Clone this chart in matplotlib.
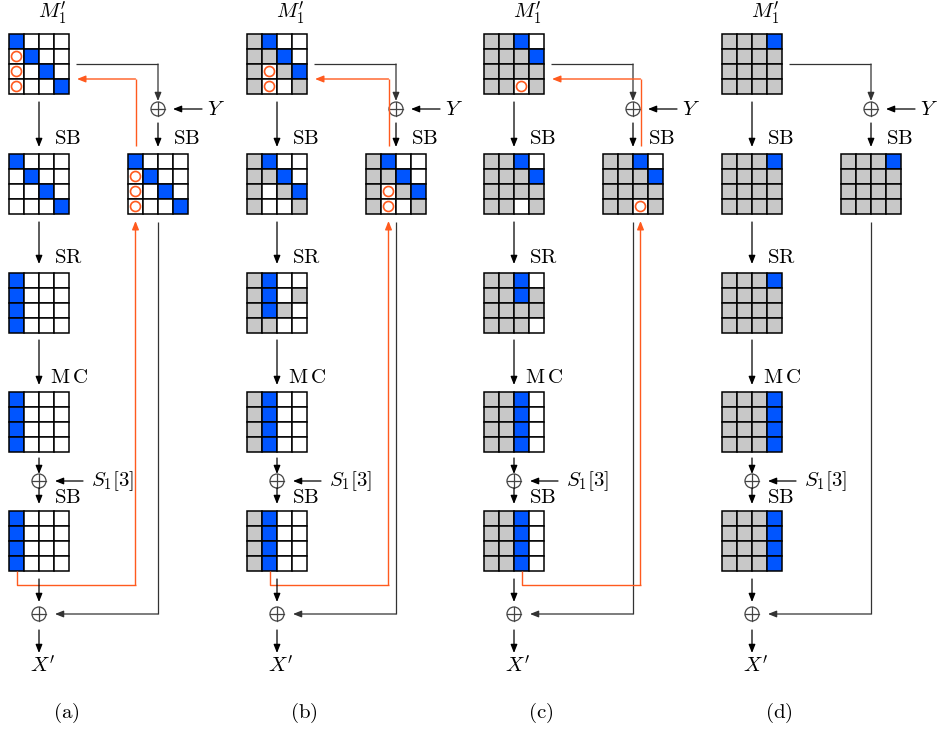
import matplotlib
matplotlib.use('Agg')
import matplotlib.pyplot as plt
from matplotlib.patches import Rectangle, Circle

plt.rcParams['mathtext.fontset'] = 'cm'

# 状态: W 白, G 灰, B 蓝, O 白底橙圈
labels = ['(a)', '(b)', '(c)', '(d)']

m1_a = ["BWWW", "OBWW", "OWBW", "OWWB"]
sb_a = ["BWWW", "WBWW", "WWBW", "WWWB"]
sbr_a = ["BWWW", "OBWW", "OWBW", "OWWB"]
sr_a = ["BWWW", "BWWW", "BWWW", "BWWW"]
mc_a = ["BWWW", "BWWW", "BWWW", "BWWW"]
sb2_a = ["BWWW", "BWWW", "BWWW", "BWWW"]

m1_b = ["GBWW", "GGBW", "GOGB", "GOWG"]
sb_b = ["GBWW", "GGBW", "GWGB", "GWWG"]
sbr_b = ["GBWW", "GGBW", "GOGB", "GOWG"]
sr_b = ["GBWW", "GBWG", "GBGW", "GGWW"]
mc_b = ["GBWW", "GBWW", "GBWW", "GBWW"]
sb2_b = ["GBWW", "GBWW", "GBWW", "GBWW"]

m1_c = ["GGBW", "GGGB", "GGGG", "GGOG"]
sb_c = ["GGBW", "GGGB", "GGGG", "GGWG"]
sbr_c = ["GGBW", "GGGB", "GGGG", "GGOG"]
sr_c = ["GGBW", "GGBG", "GGGG", "GGGW"]
mc_c = ["GGBW", "GGBW", "GGBW", "GGBW"]
sb2_c = ["GGBW", "GGBW", "GGBW", "GGBW"]

m1_d = ["GGGB", "GGGG", "GGGG", "GGGG"]
sb_d = ["GGGB", "GGGG", "GGGG", "GGGG"]
sbr_d = ["GGGB", "GGGG", "GGGG", "GGGG"]
sr_d = ["GGGB", "GGGG", "GGGG", "GGGG"]
mc_d = ["GGGB", "GGGB", "GGGB", "GGGB"]
sb2_d = ["GGGB", "GGGB", "GGGB", "GGGB"]

circle_col = [0, 1, 2, None]   # 橙色反馈线所在列
source_col = [0, 1, 2, None]   # 底部橙线起点列

panels = [
    (m1_a, sb_a, sbr_a, sr_a, mc_a, sb2_a),
    (m1_b, sb_b, sbr_b, sr_b, mc_b, sb2_b),
    (m1_c, sb_c, sbr_c, sr_c, mc_c, sb2_c),
    (m1_d, sb_d, sbr_d, sr_d, mc_d, sb2_d),
]

blue = '#0055ff'
gray = '#c8c8c8'
orange = '#ff5a1e'
dark = '#333333'
cs = 15
fs = 15

fig = plt.figure(figsize=(9.38, 7.33), dpi=100)
ax = fig.add_axes([0, 0, 1, 1])
ax.set_xlim(0, 938)
ax.set_ylim(733, 0)
ax.axis('off')


def draw_grid(x0, y0, rows):
    for i, row in enumerate(rows):
        for j, c in enumerate(row):
            fc = {'W': 'white', 'G': gray, 'B': blue, 'O': 'white'}[c]
            ax.add_patch(Rectangle((x0 + j * cs, y0 + i * cs), cs, cs,
                                   fc=fc, ec='k', lw=1.1, zorder=2))
            if c == 'O':
                ax.add_patch(Circle((x0 + j * cs + cs / 2, y0 + i * cs + cs / 2), 5,
                                    fill=False, ec=orange, lw=1.2, zorder=3))


def arrow(x1, y1, x2, y2, color='k', lw=0.9):
    ax.annotate('', xy=(x2, y2), xytext=(x1, y1),
                arrowprops=dict(arrowstyle='-|>,head_length=0.5,head_width=0.2',
                                color=color, lw=lw, shrinkA=0, shrinkB=0,
                                mutation_scale=10))


def path(xs, ys, color='k', lw=0.9):
    ax.plot(xs[:-1], ys[:-1], color=color, lw=lw, solid_capstyle='butt')
    arrow(xs[-2], ys[-2], xs[-1], ys[-1], color=color, lw=lw)


def xor(x, y):
    ax.add_patch(Circle((x, y), 7, fill=False, ec='#444444', lw=0.9))
    ax.plot([x - 7, x + 7], [y, y], color='#444444', lw=0.9)
    ax.plot([x, x], [y - 7, y + 7], color='#444444', lw=0.9)


for k, (m1, sb, sbr, sr, mc, sb2) in enumerate(panels):
    gx = 9 + round(237.7 * k)
    rx = gx + 119
    cx = gx + 30
    rc = rx + 30

    ax.text(gx + 43, 13, r"$M_1'$", fontsize=fs, ha='center', va='center')
    draw_grid(gx, 34, m1)
    arrow(cx, 102, cx, 147)
    ax.text(gx + 45, 138, r'$\mathrm{SB}$', fontsize=fs, va='center')
    draw_grid(gx, 154, sb)

    # 右侧分支
    path([gx + 67, rc, rc], [64, 64, 101], color=dark)
    xor(rc, 109)
    arrow(rx + 74, 109, rx + 45, 109)
    ax.text(rx + 79, 109, r'$Y$', fontsize=fs, va='center')
    arrow(rc, 123, rc, 147)
    ax.text(rx + 45, 138, r'$\mathrm{SB}$', fontsize=fs, va='center')
    draw_grid(rx, 154, sbr)

    arrow(cx, 222, cx, 264)
    ax.text(gx + 45, 257, r'$\mathrm{SR}$', fontsize=fs, va='center')
    draw_grid(gx, 273, sr)

    arrow(cx, 340, cx, 385)
    ax.text(gx + 41, 377, r'$\mathrm{M\,C}$', fontsize=fs, va='center')
    draw_grid(gx, 392, mc)

    arrow(cx, 458, cx, 474)
    xor(cx, 481)
    arrow(gx + 74, 481, gx + 46, 481)
    ax.text(gx + 82, 481, r'$S_1[3]$', fontsize=fs, va='center')
    arrow(cx, 488, cx, 504)
    ax.text(gx + 45, 497, r'$\mathrm{SB}$', fontsize=fs, va='center')
    draw_grid(gx, 511, sb2)

    arrow(cx, 579, cx, 602)
    xor(cx, 614)
    path([rc, rc, gx + 46], [222, 614, 614], color=dark)
    arrow(cx, 630, cx, 653)
    ax.text(gx + 34, 666, r"$X'$", fontsize=fs, ha='center', va='center')
    ax.text(gx + 57, 713, r'$\mathrm{' + labels[k] + '}$', fontsize=fs,
            ha='center', va='center')

    # 橙色反馈线
    if circle_col[k] is not None:
        ox = rx + 7.5 + cs * circle_col[k]
        sx = gx + 7.5 + cs * source_col[k]
        path([ox, ox, gx + 68], [146, 79, 79], color=orange, lw=1.0)
        path([sx, sx, ox, ox], [571, 585, 585, 221], color=orange, lw=1.0)

fig.savefig('out.png', dpi=100)
